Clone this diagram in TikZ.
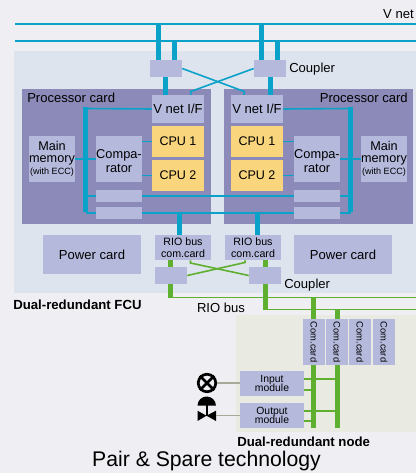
\documentclass[tikz,border=0pt]{standalone}
\usepackage{fontspec}
\setmainfont{Liberation Sans}
\usetikzlibrary{calc}
\definecolor{fsback}{HTML}{EFEEF2}
\definecolor{fspanel}{HTML}{DDE4EE}
\definecolor{fsnode}{HTML}{E9EAE2}
\definecolor{fscard}{HTML}{8C8AB8}
\definecolor{fsbox}{HTML}{B5BADD}
\definecolor{fscpu}{HTML}{F9D67E}
\definecolor{fscyan}{HTML}{0AA2C8}
\definecolor{fsgreen}{HTML}{5FB030}
\definecolor{fsgrey}{HTML}{A9A99A}
\newcommand{\fsize}[1]{\fontsize{#1}{#1}\selectfont}

\begin{document}
\begin{tikzpicture}[
    x=0.75pt, y=-0.75pt,
    sized/.style 2 args={minimum width=#1*0.75pt, minimum height=#2*0.75pt, inner sep=0pt, align=center},
    plate/.style={fill=fsbox, font=\fsize{9.8}},
    cpubox/.style={fill=fscpu, sized={52}{31}, font=\fsize{9.4}},
    cardbox/.style={fill=fsbox, sized={56}{25}, font=\fsize{8}},
    modbox/.style={fill=fsbox, sized={64}{25}, font=\fsize{7.8}},
    combox/.style={fill=fsbox, sized={22}{46}, font=\fsize{7}},
    label/.style={font=\fsize{9.8}, inner sep=0pt},
    title/.style={font=\bfseries\fsize{9.9}, inner sep=0pt},
    vline/.style={fscyan, line width=1.1pt},
    thin cyan/.style={fscyan, line width=1.2pt},
    thick cyan/.style={fscyan, line width=3.75pt},
    thin green/.style={fsgreen, line width=1.2pt},
    thick green/.style={fsgreen, line width=3.75pt},
    sensor/.style={fsgrey, line width=1.2pt}
]
\useasboundingbox (0,0) rectangle (416,473);

% Background panels
\fill[fsback] (0,0) rectangle (416,473);
\fill[fspanel] (14,51) rectangle (416,293);
\fill[fsnode] (236,315) rectangle (416,432);
\node[fill=fscard, sized={189}{135}] (cardL) at (116.5,156.5) {};
\node[fill=fscard, sized={189}{135}] (cardR) at (318.5,156.5) {};

% V net
\coordinate (vnetaW) at (15,24);
\coordinate (vnetaE) at (416,24);
\coordinate (vnetbW) at (15,41);
\coordinate (vnetbE) at (416,41);
\draw[vline] (vnetaW) -- (vnetaE);
\draw[vline] (vnetbW) -- (vnetbE);
\node[label, anchor=east] (vnet) at (414,14) {V net};

% Couplers on V net
\node[plate, sized={32}{17}] (cplL) at (166,68.5) {};
\node[plate, sized={32}{17}] (cplR) at (270,68.5) {};
\node[label, anchor=west] (cpllabel) at (289,69.5) {Coupler};

% Left processor card
\node[plate, sized={52}{28}] (vifL) at (178,109) {V net I/F};
\node[cpubox] (cpuaL) at (178,141.5) {CPU 1};
\node[cpubox] (cpubL) at (178,175.5) {CPU 2};
\node[plate, sized={46}{46}, font=\fsize{9.6}] (cmpL) at (119,159) {\rule{0pt}{10pt}Compa-\\[0.6pt]rator};
\node[plate, sized={46}{46}, font=\fsize{9.5}] (memL) at (52,159) {Main\\[-0.3pt]memory\\[-0.3pt]{\fsize{6.8}(with ECC)}};
\node[fill=fsbox, sized={46}{12}] (slotaL) at (119,196) {};
\node[fill=fsbox, sized={46}{12}] (slotbL) at (119,213) {};
\node[label, anchor=west] (procL) at (27,97.5) {Processor card};
\coordinate (busLt) at (85.5,108.5);
\coordinate (busLb) at (85.5,212.5);

% Right processor card
\node[plate, sized={52}{28}] (vifR) at (257,109) {V net I/F};
\node[cpubox] (cpuaR) at (257,141.5) {CPU 1};
\node[cpubox] (cpubR) at (257,175.5) {CPU 2};
\node[plate, sized={46}{46}, font=\fsize{9.6}] (cmpR) at (317,159) {\rule{0pt}{10pt}Compa-\\[0.6pt]rator};
\node[plate, sized={46}{46}, font=\fsize{9.5}] (memR) at (384,159) {Main\\[-0.3pt]memory\\[-0.3pt]{\fsize{6.8}(with ECC)}};
\node[fill=fsbox, sized={46}{12}] (slotaR) at (317,196) {};
\node[fill=fsbox, sized={46}{12}] (slotbR) at (317,213) {};
\node[label, anchor=east] (procR) at (408,97.5) {Processor card};
\coordinate (busRt) at (350.5,108.5);
\coordinate (busRb) at (350.5,212.5);

% Internal buses
\draw[thick cyan] ($(busLt)+(0,-1.5)$) -- (busLb);
\draw[thick cyan] ($(busRt)+(0,-1.5)$) -- (busRb);
\draw[thin cyan] (busLt) -- (vifL.west);
\draw[thin cyan] (vifR.east) -- (busRt);
\draw[thin cyan] (memL.east) -- (cmpL.west);
\draw[thin cyan] (cmpR.east) -- (memR.west);
\draw[thin cyan] (cpuaL.west) -- (cpuaL.west -| cmpL.east);
\draw[thin cyan] (cpubL.west) -- (cpubL.west -| cmpL.east);
\draw[thin cyan] (cpuaR.east) -- (cpuaR.east -| cmpR.west);
\draw[thin cyan] (cpubR.east) -- (cpubR.east -| cmpR.west);
\draw[thin cyan] (busLt |- slotaL) -- (slotaL.west);
\draw[thin cyan] (slotaL.east) -- (slotaR.west);
\draw[thin cyan] (slotaR.east) -- (busRt |- slotaR);
\draw[thin cyan] (busLt |- slotbL) -- (slotbL.west);
\draw[thin cyan] (slotbL.east) -- (slotbR.west);
\draw[thin cyan] (slotbR.east) -- (busRt |- slotbR);

% V net to couplers to I/F
\draw[thick cyan] ([xshift=-5.6pt]cplL.north |- vnetaW) -- ([xshift=-5.6pt]cplL.north);
\draw[thick cyan] ([xshift=6.4pt]cplL.north |- vnetbW) -- ([xshift=6.4pt]cplL.north);
\draw[thick cyan] ([xshift=-6.4pt]cplR.north |- vnetaW) -- ([xshift=-6.4pt]cplR.north);
\draw[thick cyan] ([xshift=5.6pt]cplR.north |- vnetbW) -- ([xshift=5.6pt]cplR.north);
\draw[thick cyan] ([xshift=-0.4pt]cplL.south) -- ([xshift=-0.4pt]cplL.south |- vifL.north);
\draw[thick cyan] (cplR.south) -- (cplR.south |- vifR.north);
\draw[thin cyan] (cplL.east) -- ++(62,23) -- ++(0,3.5) coordinate (xaEnd) -- (xaEnd |- vifR.north);
\draw[thin cyan] (cplR.west) -- ++(-63,23) -- ++(0,3.5) coordinate (xbEnd) -- (xbEnd |- vifL.north);

% RIO bus cards and couplers
\node[plate, sized={98}{39}] (pwrL) at (92,254.5) {Power card};
\node[plate, sized={98}{39}] (pwrR) at (343,254.5) {Power card};
\node[cardbox] (rcomL) at (183,247.5) {RIO bus\\[0.7pt]com.card};
\node[cardbox] (rcomR) at (253,247.5) {RIO bus\\[0.7pt]com.card};
\node[plate, sized={32}{17}] (cplbL) at (171,275.5) {};
\node[plate, sized={32}{17}] (cplbR) at (265,275.5) {};
\node[label, anchor=west] (cplblabel) at (284,285) {Coupler};
\draw[thick cyan] ([xshift=-3pt]rcomL.north |- slotbL) -- ([xshift=-3pt]rcomL.north);
\draw[thick cyan] ([xshift=3.2pt]rcomR.north |- slotbR) -- ([xshift=3.2pt]rcomR.north);

% RIO bus
\coordinate (rioaE) at (416,297.5);
\coordinate (riobE) at (416,309.5);
\draw[thick green] ([xshift=-0.4pt]cplbL.north) -- ([xshift=-0.4pt]cplbL.north |- rcomL.south);
\draw[thick green] ([xshift=0.4pt]cplbR.north) -- ([xshift=0.4pt]cplbR.north |- rcomR.south);
\draw[thick green] ([xshift=-0.4pt]cplbL.south) -- ([xshift=-0.4pt]cplbL.south |- rioaE);
\draw[thick green] ([xshift=0.4pt]cplbR.south) -- ([xshift=0.4pt]cplbR.south |- riobE);
\draw[thin green] ([xshift=-2.2pt]cplbL.south |- rioaE) -- (rioaE);
\draw[thin green] ([xshift=-1.4pt]cplbR.south |- riobE) -- (riobE);
\draw[thin green] (cplbL.east) -- (245,262.5) coordinate (xcEnd) -- (xcEnd |- rcomR.south);
\draw[thin green] (cplbR.west) -- (190.5,263) coordinate (xdEnd) -- (xdEnd |- rcomL.south);
\node[label] (riolabel) at (221,307.5) {RIO bus};
\node[title, anchor=west] (fcutitle) at (13,304.5) {Dual-redundant FCU};

% Node
\node[combox] (comA) at (314,342) {\rotatebox{-90}{Com.card}};
\node[combox] (comB) at (337,342) {\rotatebox{-90}{Com.card}};
\node[combox] (comC) at (360,342) {\rotatebox{-90}{Com.card}};
\node[combox] (comD) at (384,342) {\rotatebox{-90}{Com.card}};
\node[modbox] (inmod) at (272,383.5) {Input\\[-0.5pt]module};
\node[modbox] (outmod) at (272,415.5) {Output\\[-0.5pt]module};
\coordinate (railA) at (313.5,428);
\coordinate (railB) at (337,428);
\draw[thick green] (railA |- rioaE) -- (railA |- comA.north);
\draw[thick green] (railB |- riobE) -- (railB |- comB.north);
\draw[thick green] (railA |- comA.south) -- (railA);
\draw[thick green] (railB |- comB.south) -- (railB);
\draw[thin green] ([yshift=-4.8pt]inmod.east) -- ([yshift=-4.8pt]inmod.east -| railA);
\draw[thin green] ([yshift=3.4pt]inmod.east) -- ([yshift=3.4pt]inmod.east -| railB);
\draw[thin green] ([yshift=-4.2pt]outmod.east) -- ([yshift=-4.2pt]outmod.east -| railA);
\draw[thin green] ([yshift=3.2pt]outmod.east) -- ([yshift=3.2pt]outmod.east -| railB);
\node[title, anchor=west] (nodetitle) at (237,441.5) {Dual-redundant node};

% Lamp and valve
\node[circle, draw=black, line width=2pt, sized={17.5}{17.5}] (lamp) at (207,383) {};
\draw[line width=2pt] (lamp.north west) -- (lamp.south east);
\draw[line width=2pt] (lamp.north east) -- (lamp.south west);
\coordinate (valve) at (206.5,415.7);
\fill (197.5,405.7) arc[start angle=180, end angle=0, radius=6.9pt] -- cycle;
\draw[line width=1.5pt] (206.5,405) -- (valve);
\fill (197.5,410.7) -- (valve) -- (197.5,421) -- cycle;
\fill (216,410.7) -- (valve) -- (216,421) -- cycle;
\draw[sensor] (lamp.east) -- (inmod.west |- lamp);
\draw[sensor] (216,415.5) coordinate (valveE) -- (outmod.west |- valveE);

% Caption
\node[font=\fsize{15.9}, inner sep=0pt] (caption) at (206.5,461) {Pair \& Spare technology};

\end{tikzpicture}
\end{document}
